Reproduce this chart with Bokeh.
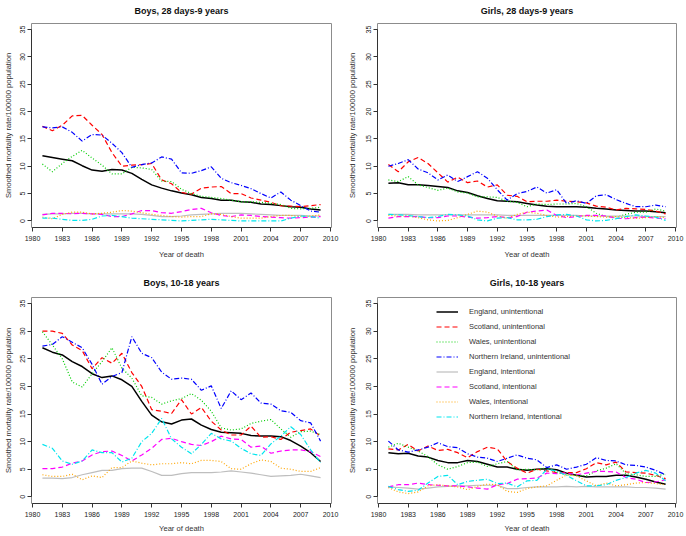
from bokeh.plotting import figure
from bokeh.layouts import column, row
from bokeh.models import Legend, LegendItem, FixedTicker, Range1d
from bokeh.embed import file_html
from bokeh.resources import INLINE

years = list(range(1981, 2010))
x_ticks = [1980, 1983, 1986, 1989, 1992, 1995, 1998, 2001, 2004, 2007, 2010]
y_ticks = [0, 5, 10, 15, 20, 25, 30, 35]

series_names = [
    "England, unintentional", "Scotland, unintentional", "Wales, unintentional",
    "Northern Ireland, unintentional", "England, intentional", "Scotland, intentional",
    "Wales, intentional", "Northern Ireland, intentional",
]
panel_titles = ["Boys, 28 days-9 years", "Girls, 28 days-9 years",
                "Boys, 10-18 years", "Girls, 10-18 years"]

# ---- Boys, 28 days-9 years ----
by_eng_u = [11.9, 11.6, 11.3, 11.0, 10.1, 9.3, 9.1, 9.4, 9.3, 8.7, 7.6, 6.6, 6.0, 5.5, 5.1,
            4.8, 4.3, 4.1, 3.8, 3.8, 3.5, 3.4, 3.1, 3.0, 2.8, 2.6, 2.5, 2.2, 2.0]
by_sco_u = [17.3, 16.5, 17.5, 19.2, 19.3, 17.5, 15.8, 12.5, 10.0, 10.2, 10.3, 10.5, 7.5, 6.8, 5.2,
            4.9, 6.0, 6.2, 6.3, 5.0, 5.0, 4.2, 3.8, 3.4, 2.8, 2.7, 2.6, 2.8, 3.0]
by_wal_u = [10.4, 9.0, 10.5, 11.8, 12.9, 11.5, 10.2, 8.6, 8.6, 9.8, 9.7, 9.4, 7.3, 7.2, 5.8,
            5.0, 4.5, 4.3, 4.1, 3.8, 3.5, 3.5, 3.4, 3.2, 3.0, 2.3, 2.2, 2.3, 2.5]
by_ni_u = [17.2, 17.0, 17.2, 16.2, 14.6, 15.8, 15.7, 14.2, 12.5, 9.8, 10.3, 10.6, 11.7, 11.3, 8.8,
           8.7, 9.2, 9.9, 7.8, 7.0, 6.5, 5.9, 5.0, 4.2, 5.3, 3.8, 2.8, 1.8, 1.6]
by_eng_i = [1.2, 1.3, 1.3, 1.4, 1.4, 1.3, 1.3, 1.3, 1.3, 1.3, 1.2, 1.0, 0.8, 0.8, 0.9,
            1.1, 1.2, 1.3, 1.4, 1.4, 1.4, 1.3, 1.2, 1.1, 1.0, 1.0, 1.0, 0.9, 0.9]
by_sco_i = [1.1, 1.4, 1.4, 1.3, 1.4, 1.3, 1.2, 0.8, 0.8, 1.3, 1.9, 1.9, 1.5, 1.4, 1.7,
            2.1, 2.3, 1.5, 1.0, 0.8, 1.1, 1.0, 0.8, 0.7, 0.6, 0.5, 0.6, 0.7, 0.8]
by_wal_i = [0.7, 0.4, 1.2, 1.6, 1.6, 1.3, 1.4, 1.6, 1.9, 1.8, 1.5, 1.2, 1.0, 0.8, 0.7,
            0.8, 0.8, 1.3, 1.2, 0.8, 0.5, 0.5, 0.5, 0.8, 1.0, 1.0, 0.8, 0.9, 1.1]
by_ni_i = [0.5, 0.5, 0.3, 0.1, 0.1, 0.3, 0.9, 1.0, 0.8, 0.5, 0.4, 0.3, 0.2, 0.1, 0.0,
           0.1, 0.2, 0.3, 0.2, 0.1, 0.0, 0.0, 0.0, 0.0, 0.0, 0.5, 0.9, 0.8, 0.5]

# ---- Girls, 28 days-9 years ----
gy_eng_u = [6.9, 7.0, 6.6, 6.6, 6.5, 6.3, 6.1, 5.5, 5.2, 4.6, 4.1, 3.7, 3.6, 3.5, 3.2,
            2.9, 2.7, 2.6, 2.6, 2.6, 2.5, 2.3, 2.2, 2.0, 1.9, 1.8, 1.8, 1.7, 1.5]
gy_sco_u = [10.3, 9.0, 10.8, 11.6, 10.5, 8.8, 7.1, 8.0, 7.0, 7.3, 6.2, 6.6, 4.7, 4.5, 3.5,
            3.6, 3.6, 3.8, 3.6, 3.5, 3.3, 2.7, 2.5, 2.0, 2.3, 2.2, 2.1, 1.8, 1.3]
gy_wal_u = [7.5, 7.2, 8.1, 6.6, 6.1, 5.6, 6.0, 5.3, 5.1, 4.4, 4.4, 4.3, 3.6, 3.4, 2.6,
            3.1, 3.0, 3.1, 3.1, 3.2, 2.6, 1.4, 0.8, 0.7, 1.2, 1.6, 1.6, 2.2, 1.8]
gy_ni_u = [10.0, 10.5, 11.2, 9.5, 8.8, 7.5, 8.4, 7.2, 8.1, 9.0, 7.8, 5.7, 3.8, 5.0, 5.4,
           6.2, 5.1, 5.7, 3.2, 3.7, 3.2, 4.6, 4.8, 3.9, 3.2, 2.6, 2.6, 2.9, 2.6]
gy_eng_i = [1.2, 1.2, 1.2, 1.1, 1.1, 1.1, 1.1, 1.1, 1.1, 1.1, 1.1, 1.1, 1.0, 1.0, 1.0,
            1.0, 1.0, 1.0, 1.0, 1.0, 0.9, 0.9, 0.9, 0.9, 0.9, 0.9, 0.8, 0.8, 0.8]
gy_sco_i = [0.5, 0.8, 0.8, 0.8, 0.6, 0.6, 0.9, 0.9, 0.7, 0.5, 0.6, 0.8, 0.6, 0.8, 1.6,
            1.8, 2.0, 1.0, 0.6, 0.8, 1.0, 1.0, 0.9, 0.5, 0.4, 0.6, 0.7, 0.5, 0.4]
gy_wal_i = [1.0, 0.9, 0.9, 0.6, 0.2, 0.0, 0.1, 0.6, 1.2, 1.8, 1.6, 0.9, 0.5, 1.2, 1.6,
            1.4, 1.0, 0.7, 0.8, 0.9, 0.9, 0.8, 0.7, 0.8, 0.6, 0.5, 0.6, 0.8, 0.6]
gy_ni_i = [1.2, 1.1, 1.0, 0.8, 0.6, 0.8, 1.2, 1.1, 0.9, 0.2, 0.0, 0.5, 0.6, 0.2, 0.2,
           0.3, 0.8, 1.1, 1.2, 0.9, 0.2, 0.0, 0.1, 0.4, 0.8, 1.1, 0.9, 0.7, 0.1]

# ---- Boys, 10-18 years ----
bo_eng_u = [27.0, 26.2, 25.7, 24.5, 23.6, 22.3, 21.6, 21.9, 21.2, 20.0, 17.3, 14.8, 13.6, 13.2, 13.9,
            14.1, 13.0, 12.2, 11.7, 11.6, 11.5, 11.1, 11.0, 11.0, 10.9, 10.2, 9.2, 8.0, 6.4]
bo_sco_u = [30.0, 30.0, 29.6, 27.5, 26.5, 23.2, 25.2, 24.2, 26.0, 22.5, 20.0, 15.8, 15.5, 15.1, 17.6,
            15.0, 16.2, 13.7, 12.1, 11.2, 11.2, 12.8, 10.8, 10.9, 10.4, 11.7, 12.0, 12.3, 11.0]
bo_wal_u = [29.9, 27.5, 25.0, 20.8, 19.9, 22.3, 24.5, 27.0, 23.3, 21.5, 18.3, 18.0, 16.8, 17.4, 17.8,
            18.7, 17.5, 15.5, 12.5, 12.1, 12.3, 13.3, 13.7, 14.0, 12.3, 10.8, 11.8, 11.9, 11.3]
bo_ni_u = [27.3, 27.6, 29.0, 28.0, 27.0, 24.0, 20.4, 21.8, 22.5, 29.0, 26.0, 25.2, 22.6, 21.3, 21.5,
           21.3, 19.3, 20.1, 16.0, 19.2, 17.6, 18.8, 17.0, 16.8, 15.6, 15.3, 13.8, 13.4, 10.1]
bo_eng_i = [3.4, 3.4, 3.3, 3.5, 4.0, 4.4, 4.8, 4.8, 5.1, 5.2, 5.2, 4.6, 3.9, 3.9, 4.2,
            4.4, 4.4, 4.4, 4.5, 4.7, 4.5, 4.3, 4.0, 3.7, 3.8, 3.9, 4.1, 3.8, 3.5]
bo_sco_i = [5.1, 5.1, 5.4, 6.1, 6.5, 7.6, 8.2, 8.3, 7.5, 6.5, 7.6, 8.8, 10.4, 10.6, 10.0,
            9.5, 9.3, 10.0, 11.0, 10.5, 10.4, 9.0, 9.2, 7.9, 8.3, 8.5, 8.5, 8.2, 7.3]
bo_wal_i = [4.0, 3.7, 3.7, 4.1, 3.1, 3.8, 3.5, 5.3, 5.3, 6.5, 6.1, 5.8, 6.0, 6.0, 6.2,
            6.0, 6.6, 6.6, 6.4, 5.1, 5.0, 6.0, 6.7, 6.4, 5.2, 5.0, 4.6, 4.6, 5.3]
bo_ni_i = [9.5, 8.8, 6.5, 5.9, 6.5, 8.5, 8.0, 8.0, 6.3, 7.0, 10.0, 11.5, 14.2, 10.5, 9.0,
           7.8, 9.5, 11.5, 10.5, 10.1, 8.8, 7.8, 7.5, 9.6, 11.0, 12.7, 11.3, 8.5, 6.2]

# ---- Girls, 10-18 years ----
go_eng_u = [8.0, 7.8, 7.9, 7.4, 7.2, 6.6, 6.2, 6.2, 6.6, 6.4, 5.9, 5.4, 5.4, 5.0, 4.8,
            5.0, 5.1, 4.9, 4.3, 3.9, 3.6, 3.7, 3.7, 3.9, 3.9, 3.6, 3.2, 2.7, 2.3]
go_sco_u = [8.7, 8.5, 9.5, 8.3, 9.2, 8.4, 8.6, 8.0, 7.1, 8.2, 9.0, 8.7, 6.4, 5.2, 4.3,
            5.0, 4.7, 4.4, 4.4, 4.4, 5.1, 6.2, 5.8, 6.3, 4.5, 4.4, 4.3, 3.9, 3.3]
go_wal_u = [9.0, 9.7, 9.0, 8.3, 7.3, 5.8, 5.0, 5.5, 6.2, 6.3, 5.5, 6.0, 6.4, 4.9, 5.0,
            4.9, 5.3, 4.4, 4.0, 3.9, 3.8, 4.7, 5.2, 6.0, 4.2, 4.0, 3.7, 3.7, 4.2]
go_ni_u = [10.1, 8.5, 8.1, 8.5, 9.0, 9.8, 9.1, 8.9, 7.8, 7.2, 7.0, 6.4, 7.0, 7.6, 7.0,
           6.7, 5.3, 5.8, 5.0, 5.4, 5.9, 7.1, 6.6, 6.5, 5.8, 5.7, 5.4, 4.8, 4.0]
go_eng_i = [1.8, 1.7, 1.6, 1.4, 1.6, 1.8, 1.9, 2.0, 2.0, 2.1, 2.1, 2.1, 1.5, 1.5, 1.7,
            1.8, 1.8, 1.8, 1.9, 1.8, 1.9, 1.8, 1.8, 1.8, 1.8, 1.7, 1.7, 1.6, 1.4]
go_sco_i = [1.8, 2.2, 2.2, 2.5, 2.2, 2.1, 2.0, 2.0, 1.8, 1.6, 1.4, 2.2, 2.4, 3.2, 3.3,
            3.4, 4.3, 4.2, 4.3, 4.0, 4.3, 4.6, 4.6, 4.5, 3.5, 3.2, 2.6, 2.7, 3.1]
go_wal_i = [1.7, 0.9, 0.6, 0.9, 2.0, 2.2, 2.0, 1.8, 1.3, 1.9, 2.3, 2.2, 1.0, 0.8, 1.5,
            1.8, 2.0, 3.0, 4.0, 3.8, 2.9, 2.0, 2.5, 2.0, 2.2, 2.5, 2.6, 2.4, 2.2]
go_ni_i = [1.9, 1.3, 1.0, 1.2, 2.5, 3.7, 3.9, 2.2, 2.8, 3.0, 3.2, 2.4, 2.5, 1.8, 2.9,
           3.0, 5.0, 4.7, 3.9, 2.9, 2.0, 2.0, 2.2, 3.0, 3.5, 4.3, 4.8, 4.3, 2.9]

panel_data = [
    [by_eng_u, by_sco_u, by_wal_u, by_ni_u, by_eng_i, by_sco_i, by_wal_i, by_ni_i],
    [gy_eng_u, gy_sco_u, gy_wal_u, gy_ni_u, gy_eng_i, gy_sco_i, gy_wal_i, gy_ni_i],
    [bo_eng_u, bo_sco_u, bo_wal_u, bo_ni_u, bo_eng_i, bo_sco_i, bo_wal_i, bo_ni_i],
    [go_eng_u, go_sco_u, go_wal_u, go_ni_u, go_eng_i, go_sco_i, go_wal_i, go_ni_i],
]

colors = ["#000000", "#FF0000", "#00CD00", "#0000FF", "#BEBEBE", "#FF00FF", "#FFA500", "#00E5EE"]
dashes = ["solid", "5 3", "1 2", "5 2 1 2", "solid", "5 3", "1 2", "5 2 1 2"]
widths = [1.5, 1.2, 1.2, 1.2, 1.2, 1.2, 1.2, 1.2]

FONT = "Liberation Sans"


def make_panel(idx):
    r, c = divmod(idx, 2)
    p = figure(
        width=343, height=268, output_backend="svg", toolbar_location=None,
        x_range=Range1d(1979.9, 2010.1), y_range=Range1d(-1.2, 36.1),
        min_border_left=31 if c == 0 else 34,
        min_border_right=12 if c == 0 else 10,
        min_border_top=23 if r == 0 else 29,
        min_border_bottom=41 if r == 0 else 33,
        title=panel_titles[idx],
    )
    p.title.align = "center"
    p.title.vertical_align = "top"
    p.title.text_font = FONT
    p.title.text_font_size = "9px"
    p.title.text_font_style = "bold"
    p.title.text_color = "#111111"
    p.title.standoff = 11 if r == 0 else 16
    p.grid.visible = False
    p.outline_line_color = "#8c8c8c"
    p.outline_line_width = 1
    p.background_fill_color = "white"
    p.border_fill_color = "white"

    p.xaxis.ticker = FixedTicker(ticks=x_ticks)
    p.yaxis.ticker = FixedTicker(ticks=y_ticks)
    p.xaxis.bounds = (1980, 2010)
    p.yaxis.bounds = (0, 35)
    p.xaxis.axis_label = "Year of death"
    p.yaxis.axis_label = "Smoothed mortality rate/100000 population"
    p.yaxis.major_label_orientation = "vertical"
    for ax in (p.xaxis, p.yaxis):
        ax.major_tick_out = 4
        ax.major_tick_in = 0
        ax.minor_tick_out = 0
        ax.minor_tick_in = 0
        ax.axis_line_color = "#333333"
        ax.major_tick_line_color = "#333333"
        ax.major_label_text_font = FONT
        ax.major_label_text_font_size = "7px"
        ax.major_label_text_color = "#222222"
        ax.axis_label_text_font = FONT
        ax.axis_label_text_font_size = "7.6px"
        ax.axis_label_text_font_style = "normal"
        ax.axis_label_text_color = "#333333"
    p.xaxis.major_label_standoff = 4
    p.xaxis.axis_label_standoff = 6 if r == 0 else 4
    p.yaxis.major_label_standoff = 2
    p.yaxis.axis_label_standoff = 5 if c == 0 else 7

    renderers = []
    for k in range(8):
        rr = p.line(years, panel_data[idx][k], line_color=colors[k],
                    line_dash=dashes[k], line_width=widths[k])
        renderers.append(rr)

    if idx == 3:
        items = [LegendItem(label=series_names[k], renderers=[renderers[k]]) for k in range(8)]
        leg = Legend(items=items, location=(59, 80))
        leg.border_line_alpha = 0
        leg.background_fill_alpha = 0
        leg.padding = 0
        leg.margin = 0
        leg.spacing = 2
        leg.glyph_width = 22
        leg.glyph_height = 13
        leg.label_height = 13
        leg.label_standoff = 11
        leg.label_text_font = FONT
        leg.label_text_font_size = "7.5px"
        leg.label_text_color = "#333333"
        p.add_layout(leg)
    return p


panels = [make_panel(i) for i in range(4)]
layout = column(row(panels[0], panels[1]), row(panels[2], panels[3]))

open("out.html", "w").write(file_html(layout, INLINE))
